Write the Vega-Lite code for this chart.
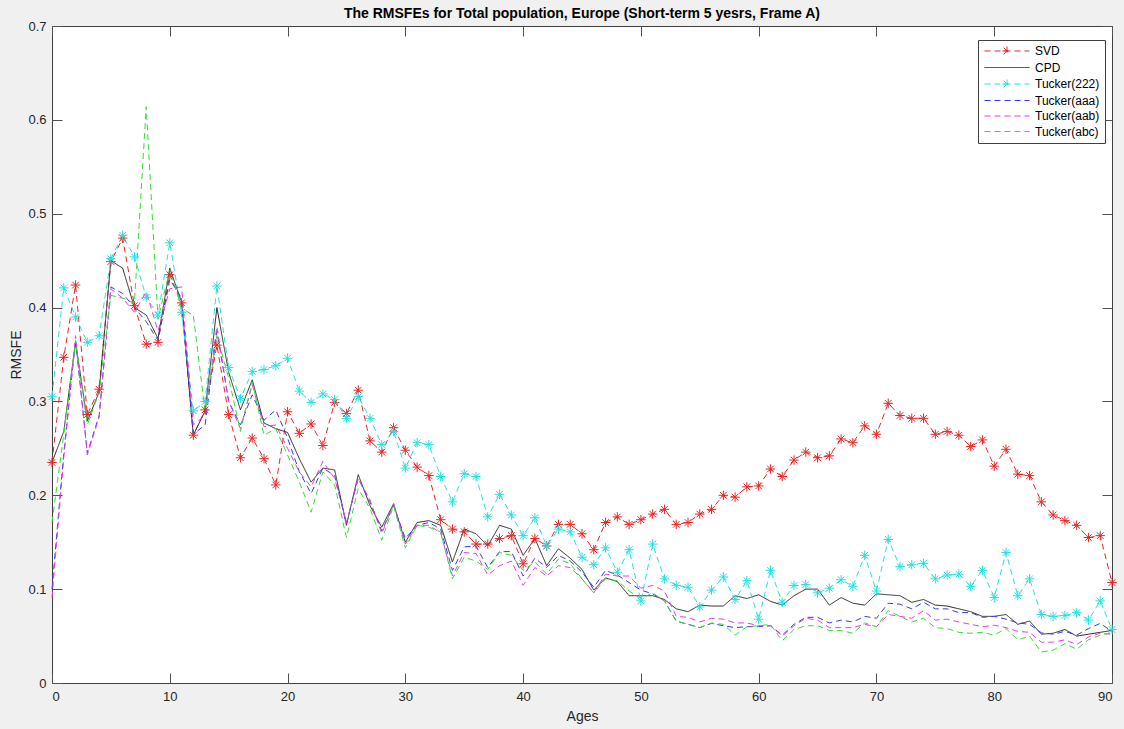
{
  "$schema": "https://vega.github.io/schema/vega-lite/v6.json",
  "width": 1060,
  "height": 657,
  "autosize": "none",
  "padding": {"left": 52, "top": 26, "right": 12, "bottom": 46},
  "background": "#f0f0f0",
  "title": {"text": "The RMSFEs for Total population, Europe (Short-term 5 yesrs, Frame A)", "font": "Liberation Sans", "fontSize": 14, "fontWeight": "bold", "color": "#000000", "anchor": "middle", "offset": -1},
  "config": {
    "view": {"fill": "white", "stroke": "#404040", "strokeWidth": 1},
    "axis": {"labelFont": "Liberation Sans", "labelFontSize": 13, "labelColor": "#262626", "titleFont": "Liberation Sans", "titleFontSize": 14, "titleFontWeight": "normal", "titleColor": "#262626", "tickColor": "#505050", "tickSize": -10, "domain": false, "grid": false},
    "legend": {"orient": "none", "legendX": 926, "legendY": 14, "title": null, "symbolType": "M-5,0H5", "symbolSize": 81, "symbolStrokeWidth": 1, "symbolOffset": 18, "labelFont": "Liberation Sans", "labelFontSize": 12, "labelColor": "#000000", "strokeColor": "#404040", "fillColor": "white", "padding": 5, "rowPadding": 3.5, "labelOffset": 22}
  },
  "data": {"values": [
    {"age":0,"SVD":0.235,"CPD":0.235,"Tucker(222)":0.305,"Tucker(aaa)":0.100,"Tucker(aab)":0.091,"Tucker(abc)":0.171},
    {"age":1,"SVD":0.347,"CPD":0.268,"Tucker(222)":0.421,"Tucker(aaa)":0.245,"Tucker(aab)":0.240,"Tucker(abc)":0.265},
    {"age":2,"SVD":0.424,"CPD":0.363,"Tucker(222)":0.390,"Tucker(aaa)":0.365,"Tucker(aab)":0.370,"Tucker(abc)":0.365},
    {"age":3,"SVD":0.286,"CPD":0.279,"Tucker(222)":0.363,"Tucker(aaa)":0.245,"Tucker(aab)":0.243,"Tucker(abc)":0.275},
    {"age":4,"SVD":0.313,"CPD":0.310,"Tucker(222)":0.370,"Tucker(aaa)":0.285,"Tucker(aab)":0.283,"Tucker(abc)":0.310},
    {"age":5,"SVD":0.449,"CPD":0.450,"Tucker(222)":0.452,"Tucker(aaa)":0.422,"Tucker(aab)":0.420,"Tucker(abc)":0.413},
    {"age":6,"SVD":0.474,"CPD":0.442,"Tucker(222)":0.477,"Tucker(aaa)":0.415,"Tucker(aab)":0.410,"Tucker(abc)":0.410},
    {"age":7,"SVD":0.402,"CPD":0.400,"Tucker(222)":0.454,"Tucker(aaa)":0.400,"Tucker(aab)":0.395,"Tucker(abc)":0.405},
    {"age":8,"SVD":0.361,"CPD":0.392,"Tucker(222)":0.411,"Tucker(aaa)":0.385,"Tucker(aab)":0.417,"Tucker(abc)":0.614},
    {"age":9,"SVD":0.363,"CPD":0.367,"Tucker(222)":0.392,"Tucker(aaa)":0.365,"Tucker(aab)":0.375,"Tucker(abc)":0.388},
    {"age":10,"SVD":0.435,"CPD":0.442,"Tucker(222)":0.469,"Tucker(aaa)":0.430,"Tucker(aab)":0.420,"Tucker(abc)":0.440},
    {"age":11,"SVD":0.405,"CPD":0.406,"Tucker(222)":0.395,"Tucker(aaa)":0.410,"Tucker(aab)":0.422,"Tucker(abc)":0.399},
    {"age":12,"SVD":0.264,"CPD":0.264,"Tucker(222)":0.290,"Tucker(aaa)":0.265,"Tucker(aab)":0.275,"Tucker(abc)":0.392},
    {"age":13,"SVD":0.291,"CPD":0.290,"Tucker(222)":0.300,"Tucker(aaa)":0.275,"Tucker(aab)":0.285,"Tucker(abc)":0.289},
    {"age":14,"SVD":0.360,"CPD":0.400,"Tucker(222)":0.423,"Tucker(aaa)":0.375,"Tucker(aab)":0.380,"Tucker(abc)":0.370},
    {"age":15,"SVD":0.286,"CPD":0.331,"Tucker(222)":0.336,"Tucker(aaa)":0.300,"Tucker(aab)":0.300,"Tucker(abc)":0.325},
    {"age":16,"SVD":0.240,"CPD":0.291,"Tucker(222)":0.303,"Tucker(aaa)":0.275,"Tucker(aab)":0.271,"Tucker(abc)":0.268},
    {"age":17,"SVD":0.261,"CPD":0.323,"Tucker(222)":0.332,"Tucker(aaa)":0.307,"Tucker(aab)":0.318,"Tucker(abc)":0.321},
    {"age":18,"SVD":0.239,"CPD":0.277,"Tucker(222)":0.334,"Tucker(aaa)":0.280,"Tucker(aab)":0.273,"Tucker(abc)":0.264},
    {"age":19,"SVD":0.211,"CPD":0.271,"Tucker(222)":0.338,"Tucker(aaa)":0.291,"Tucker(aab)":0.275,"Tucker(abc)":0.271},
    {"age":20,"SVD":0.289,"CPD":0.267,"Tucker(222)":0.346,"Tucker(aaa)":0.261,"Tucker(aab)":0.250,"Tucker(abc)":0.243},
    {"age":21,"SVD":0.266,"CPD":0.239,"Tucker(222)":0.311,"Tucker(aaa)":0.225,"Tucker(aab)":0.225,"Tucker(abc)":0.214},
    {"age":22,"SVD":0.276,"CPD":0.214,"Tucker(222)":0.299,"Tucker(aaa)":0.202,"Tucker(aab)":0.209,"Tucker(abc)":0.182},
    {"age":23,"SVD":0.253,"CPD":0.229,"Tucker(222)":0.308,"Tucker(aaa)":0.229,"Tucker(aab)":0.236,"Tucker(abc)":0.225},
    {"age":24,"SVD":0.299,"CPD":0.227,"Tucker(222)":0.302,"Tucker(aaa)":0.221,"Tucker(aab)":0.218,"Tucker(abc)":0.211},
    {"age":25,"SVD":0.287,"CPD":0.168,"Tucker(222)":0.282,"Tucker(aaa)":0.170,"Tucker(aab)":0.171,"Tucker(abc)":0.155},
    {"age":26,"SVD":0.312,"CPD":0.222,"Tucker(222)":0.305,"Tucker(aaa)":0.218,"Tucker(aab)":0.218,"Tucker(abc)":0.207},
    {"age":27,"SVD":0.258,"CPD":0.189,"Tucker(222)":0.282,"Tucker(aaa)":0.193,"Tucker(aab)":0.195,"Tucker(abc)":0.186},
    {"age":28,"SVD":0.246,"CPD":0.166,"Tucker(222)":0.254,"Tucker(aaa)":0.162,"Tucker(aab)":0.159,"Tucker(abc)":0.152},
    {"age":29,"SVD":0.272,"CPD":0.191,"Tucker(222)":0.268,"Tucker(aaa)":0.189,"Tucker(aab)":0.191,"Tucker(abc)":0.189},
    {"age":30,"SVD":0.248,"CPD":0.150,"Tucker(222)":0.229,"Tucker(aaa)":0.154,"Tucker(aab)":0.148,"Tucker(abc)":0.144},
    {"age":31,"SVD":0.230,"CPD":0.171,"Tucker(222)":0.256,"Tucker(aaa)":0.168,"Tucker(aab)":0.168,"Tucker(abc)":0.168},
    {"age":32,"SVD":0.221,"CPD":0.173,"Tucker(222)":0.254,"Tucker(aaa)":0.171,"Tucker(aab)":0.168,"Tucker(abc)":0.166},
    {"age":33,"SVD":0.174,"CPD":0.168,"Tucker(222)":0.220,"Tucker(aaa)":0.164,"Tucker(aab)":0.160,"Tucker(abc)":0.161},
    {"age":34,"SVD":0.164,"CPD":0.129,"Tucker(222)":0.193,"Tucker(aaa)":0.120,"Tucker(aab)":0.114,"Tucker(abc)":0.111},
    {"age":35,"SVD":0.161,"CPD":0.164,"Tucker(222)":0.223,"Tucker(aaa)":0.145,"Tucker(aab)":0.139,"Tucker(abc)":0.134},
    {"age":36,"SVD":0.148,"CPD":0.159,"Tucker(222)":0.220,"Tucker(aaa)":0.146,"Tucker(aab)":0.138,"Tucker(abc)":0.130},
    {"age":37,"SVD":0.148,"CPD":0.146,"Tucker(222)":0.177,"Tucker(aaa)":0.123,"Tucker(aab)":0.115,"Tucker(abc)":0.121},
    {"age":38,"SVD":0.154,"CPD":0.168,"Tucker(222)":0.201,"Tucker(aaa)":0.140,"Tucker(aab)":0.125,"Tucker(abc)":0.139},
    {"age":39,"SVD":0.157,"CPD":0.164,"Tucker(222)":0.179,"Tucker(aaa)":0.140,"Tucker(aab)":0.130,"Tucker(abc)":0.136},
    {"age":40,"SVD":0.127,"CPD":0.136,"Tucker(222)":0.157,"Tucker(aaa)":0.114,"Tucker(aab)":0.104,"Tucker(abc)":0.120},
    {"age":41,"SVD":0.154,"CPD":0.154,"Tucker(222)":0.176,"Tucker(aaa)":0.133,"Tucker(aab)":0.123,"Tucker(abc)":0.129},
    {"age":42,"SVD":0.146,"CPD":0.125,"Tucker(222)":0.146,"Tucker(aaa)":0.123,"Tucker(aab)":0.114,"Tucker(abc)":0.116},
    {"age":43,"SVD":0.169,"CPD":0.143,"Tucker(222)":0.164,"Tucker(aaa)":0.136,"Tucker(aab)":0.125,"Tucker(abc)":0.132},
    {"age":44,"SVD":0.169,"CPD":0.133,"Tucker(222)":0.161,"Tucker(aaa)":0.130,"Tucker(aab)":0.123,"Tucker(abc)":0.127},
    {"age":45,"SVD":0.159,"CPD":0.121,"Tucker(222)":0.134,"Tucker(aaa)":0.118,"Tucker(aab)":0.111,"Tucker(abc)":0.111},
    {"age":46,"SVD":0.142,"CPD":0.099,"Tucker(222)":0.126,"Tucker(aaa)":0.102,"Tucker(aab)":0.096,"Tucker(abc)":0.096},
    {"age":47,"SVD":0.171,"CPD":0.112,"Tucker(222)":0.144,"Tucker(aaa)":0.120,"Tucker(aab)":0.116,"Tucker(abc)":0.111},
    {"age":48,"SVD":0.177,"CPD":0.108,"Tucker(222)":0.118,"Tucker(aaa)":0.115,"Tucker(aab)":0.114,"Tucker(abc)":0.109},
    {"age":49,"SVD":0.169,"CPD":0.093,"Tucker(222)":0.142,"Tucker(aaa)":0.107,"Tucker(aab)":0.114,"Tucker(abc)":0.098},
    {"age":50,"SVD":0.174,"CPD":0.093,"Tucker(222)":0.0875,"Tucker(aaa)":0.099,"Tucker(aab)":0.101,"Tucker(abc)":0.090},
    {"age":51,"SVD":0.180,"CPD":0.093,"Tucker(222)":0.148,"Tucker(aaa)":0.095,"Tucker(aab)":0.104,"Tucker(abc)":0.096},
    {"age":52,"SVD":0.185,"CPD":0.089,"Tucker(222)":0.111,"Tucker(aaa)":0.0875,"Tucker(aab)":0.098,"Tucker(abc)":0.0875},
    {"age":53,"SVD":0.169,"CPD":0.079,"Tucker(222)":0.104,"Tucker(aaa)":0.066,"Tucker(aab)":0.071,"Tucker(abc)":0.066},
    {"age":54,"SVD":0.171,"CPD":0.076,"Tucker(222)":0.102,"Tucker(aaa)":0.0625,"Tucker(aab)":0.070,"Tucker(abc)":0.0625},
    {"age":55,"SVD":0.180,"CPD":0.083,"Tucker(222)":0.081,"Tucker(aaa)":0.059,"Tucker(aab)":0.065,"Tucker(abc)":0.059},
    {"age":56,"SVD":0.185,"CPD":0.082,"Tucker(222)":0.099,"Tucker(aaa)":0.0635,"Tucker(aab)":0.069,"Tucker(abc)":0.064},
    {"age":57,"SVD":0.200,"CPD":0.082,"Tucker(222)":0.113,"Tucker(aaa)":0.061,"Tucker(aab)":0.068,"Tucker(abc)":0.0625},
    {"age":58,"SVD":0.198,"CPD":0.093,"Tucker(222)":0.089,"Tucker(aaa)":0.059,"Tucker(aab)":0.064,"Tucker(abc)":0.051},
    {"age":59,"SVD":0.209,"CPD":0.090,"Tucker(222)":0.109,"Tucker(aaa)":0.060,"Tucker(aab)":0.064,"Tucker(abc)":0.060},
    {"age":60,"SVD":0.210,"CPD":0.094,"Tucker(222)":0.068,"Tucker(aaa)":0.060,"Tucker(aab)":0.061,"Tucker(abc)":0.061},
    {"age":61,"SVD":0.228,"CPD":0.087,"Tucker(222)":0.120,"Tucker(aaa)":0.061,"Tucker(aab)":0.061,"Tucker(abc)":0.0625},
    {"age":62,"SVD":0.220,"CPD":0.083,"Tucker(222)":0.086,"Tucker(aaa)":0.051,"Tucker(aab)":0.050,"Tucker(abc)":0.045},
    {"age":63,"SVD":0.2375,"CPD":0.093,"Tucker(222)":0.104,"Tucker(aaa)":0.0625,"Tucker(aab)":0.061,"Tucker(abc)":0.057},
    {"age":64,"SVD":0.246,"CPD":0.100,"Tucker(222)":0.105,"Tucker(aaa)":0.070,"Tucker(aab)":0.069,"Tucker(abc)":0.061},
    {"age":65,"SVD":0.240,"CPD":0.100,"Tucker(222)":0.096,"Tucker(aaa)":0.070,"Tucker(aab)":0.067,"Tucker(abc)":0.061},
    {"age":66,"SVD":0.242,"CPD":0.083,"Tucker(222)":0.101,"Tucker(aaa)":0.064,"Tucker(aab)":0.059,"Tucker(abc)":0.056},
    {"age":67,"SVD":0.260,"CPD":0.091,"Tucker(222)":0.110,"Tucker(aaa)":0.067,"Tucker(aab)":0.059,"Tucker(abc)":0.056},
    {"age":68,"SVD":0.256,"CPD":0.085,"Tucker(222)":0.103,"Tucker(aaa)":0.065,"Tucker(aab)":0.059,"Tucker(abc)":0.053},
    {"age":69,"SVD":0.274,"CPD":0.083,"Tucker(222)":0.136,"Tucker(aaa)":0.071,"Tucker(aab)":0.0625,"Tucker(abc)":0.064},
    {"age":70,"SVD":0.265,"CPD":0.095,"Tucker(222)":0.098,"Tucker(aaa)":0.069,"Tucker(aab)":0.060,"Tucker(abc)":0.060},
    {"age":71,"SVD":0.298,"CPD":0.094,"Tucker(222)":0.153,"Tucker(aaa)":0.085,"Tucker(aab)":0.073,"Tucker(abc)":0.077},
    {"age":72,"SVD":0.285,"CPD":0.093,"Tucker(222)":0.124,"Tucker(aaa)":0.084,"Tucker(aab)":0.071,"Tucker(abc)":0.071},
    {"age":73,"SVD":0.282,"CPD":0.086,"Tucker(222)":0.126,"Tucker(aaa)":0.079,"Tucker(aab)":0.069,"Tucker(abc)":0.065},
    {"age":74,"SVD":0.282,"CPD":0.089,"Tucker(222)":0.1275,"Tucker(aaa)":0.086,"Tucker(aab)":0.077,"Tucker(abc)":0.069},
    {"age":75,"SVD":0.265,"CPD":0.083,"Tucker(222)":0.111,"Tucker(aaa)":0.079,"Tucker(aab)":0.067,"Tucker(abc)":0.059},
    {"age":76,"SVD":0.268,"CPD":0.082,"Tucker(222)":0.115,"Tucker(aaa)":0.079,"Tucker(aab)":0.068,"Tucker(abc)":0.058},
    {"age":77,"SVD":0.264,"CPD":0.079,"Tucker(222)":0.116,"Tucker(aaa)":0.075,"Tucker(aab)":0.065,"Tucker(abc)":0.054},
    {"age":78,"SVD":0.252,"CPD":0.076,"Tucker(222)":0.103,"Tucker(aaa)":0.075,"Tucker(aab)":0.0625,"Tucker(abc)":0.053},
    {"age":79,"SVD":0.259,"CPD":0.071,"Tucker(222)":0.120,"Tucker(aaa)":0.070,"Tucker(aab)":0.060,"Tucker(abc)":0.054},
    {"age":80,"SVD":0.231,"CPD":0.071,"Tucker(222)":0.091,"Tucker(aaa)":0.071,"Tucker(aab)":0.0615,"Tucker(abc)":0.051},
    {"age":81,"SVD":0.249,"CPD":0.073,"Tucker(222)":0.139,"Tucker(aaa)":0.068,"Tucker(aab)":0.059,"Tucker(abc)":0.058},
    {"age":82,"SVD":0.2225,"CPD":0.0625,"Tucker(222)":0.093,"Tucker(aaa)":0.064,"Tucker(aab)":0.055,"Tucker(abc)":0.046},
    {"age":83,"SVD":0.221,"CPD":0.066,"Tucker(222)":0.111,"Tucker(aaa)":0.0625,"Tucker(aab)":0.054,"Tucker(abc)":0.050},
    {"age":84,"SVD":0.193,"CPD":0.052,"Tucker(222)":0.073,"Tucker(aaa)":0.0535,"Tucker(aab)":0.0435,"Tucker(abc)":0.033},
    {"age":85,"SVD":0.179,"CPD":0.053,"Tucker(222)":0.071,"Tucker(aaa)":0.052,"Tucker(aab)":0.0435,"Tucker(abc)":0.035},
    {"age":86,"SVD":0.173,"CPD":0.057,"Tucker(222)":0.072,"Tucker(aaa)":0.055,"Tucker(aab)":0.046,"Tucker(abc)":0.042},
    {"age":87,"SVD":0.168,"CPD":0.050,"Tucker(222)":0.075,"Tucker(aaa)":0.051,"Tucker(aab)":0.041,"Tucker(abc)":0.036},
    {"age":88,"SVD":0.155,"CPD":0.052,"Tucker(222)":0.067,"Tucker(aaa)":0.058,"Tucker(aab)":0.049,"Tucker(abc)":0.046},
    {"age":89,"SVD":0.157,"CPD":0.054,"Tucker(222)":0.0875,"Tucker(aaa)":0.0635,"Tucker(aab)":0.053,"Tucker(abc)":0.051},
    {"age":90,"SVD":0.107,"CPD":0.056,"Tucker(222)":0.057,"Tucker(aaa)":0.055,"Tucker(aab)":0.052,"Tucker(abc)":0.0535}
  ]},
  "transform": [{"fold": ["SVD", "CPD", "Tucker(222)", "Tucker(aaa)", "Tucker(aab)", "Tucker(abc)"], "as": ["model", "rmsfe"]}],
  "layer": [
    {
      "mark": {"type": "line", "strokeWidth": 1},
      "encoding": {
        "x": {"field": "age", "type": "quantitative", "scale": {"domain": [0, 90], "nice": false, "zero": false}, "axis": {"values": [0, 10, 20, 30, 40, 50, 60, 70, 80, 90], "title": "Ages", "labelPadding": 17, "titlePadding": 6}},
        "y": {"field": "rmsfe", "type": "quantitative", "scale": {"domain": [0, 0.7], "nice": false}, "axis": {"values": [0, 0.1, 0.2, 0.3, 0.4, 0.5, 0.6, 0.7], "format": "~g", "title": "RMSFE", "labelPadding": 16, "titlePadding": 4}},
        "color": {"field": "model", "type": "nominal", "sort": ["SVD", "CPD", "Tucker(222)", "Tucker(aaa)", "Tucker(aab)", "Tucker(abc)"], "scale": {"domain": ["SVD", "CPD", "Tucker(222)", "Tucker(aaa)", "Tucker(aab)", "Tucker(abc)"], "range": ["#e82626", "#262626", "#26e0e0", "#3a3ae8", "#e83ae8", "#33dd33"]},
          "legend": {"encode": {"symbols": {"update": {"shape": [{"test": "datum.value === 'SVD' || datum.value === 'Tucker(222)'", "value": "M-5,0H5M-0.75,-0.75L0.75,0.75M-0.75,0.75L0.75,-0.75M0,-1V1M-1,0H1"}, {"value": "M-5,0H5"}]}}}}},
        "strokeDash": {"field": "model", "type": "nominal", "sort": ["SVD", "CPD", "Tucker(222)", "Tucker(aaa)", "Tucker(aab)", "Tucker(abc)"], "scale": {"domain": ["SVD", "CPD", "Tucker(222)", "Tucker(aaa)", "Tucker(aab)", "Tucker(abc)"], "range": [[6, 4], [1, 0], [6, 4], [6, 4], [6, 4], [6, 4]]}}
      }
    },
    {
      "transform": [{"filter": "datum.model === 'SVD'"}],
      "mark": {"type": "point", "shape": "M-1,0L1,0M0,-1L0,1M-0.7,-0.7L0.7,0.7M-0.7,0.7L0.7,-0.7", "filled": false, "stroke": "#e82626", "size": 90, "strokeWidth": 1, "opacity": 1},
      "encoding": {
        "x": {"field": "age", "type": "quantitative", "axis": null},
        "y": {"field": "rmsfe", "type": "quantitative", "axis": null}
      }
    },
    {
      "transform": [{"filter": "datum.model === 'Tucker(222)'"}],
      "mark": {"type": "point", "shape": "M-1,0L1,0M0,-1L0,1M-0.7,-0.7L0.7,0.7M-0.7,0.7L0.7,-0.7", "filled": false, "stroke": "#26e0e0", "size": 90, "strokeWidth": 1, "opacity": 1},
      "encoding": {
        "x": {"field": "age", "type": "quantitative", "axis": null},
        "y": {"field": "rmsfe", "type": "quantitative", "axis": null}
      }
    },
    {
      "mark": {"type": "point", "opacity": 0},
      "encoding": {
        "x": {"field": "age", "type": "quantitative", "axis": {"orient": "top", "labels": false, "title": null, "values": [0, 10, 20, 30, 40, 50, 60, 70, 80, 90]}},
        "y": {"field": "rmsfe", "type": "quantitative", "axis": {"orient": "right", "labels": false, "title": null, "values": [0, 0.1, 0.2, 0.3, 0.4, 0.5, 0.6, 0.7]}}
      }
    }
  ],
  "resolve": {"axis": {"x": "independent", "y": "independent"}}
}
